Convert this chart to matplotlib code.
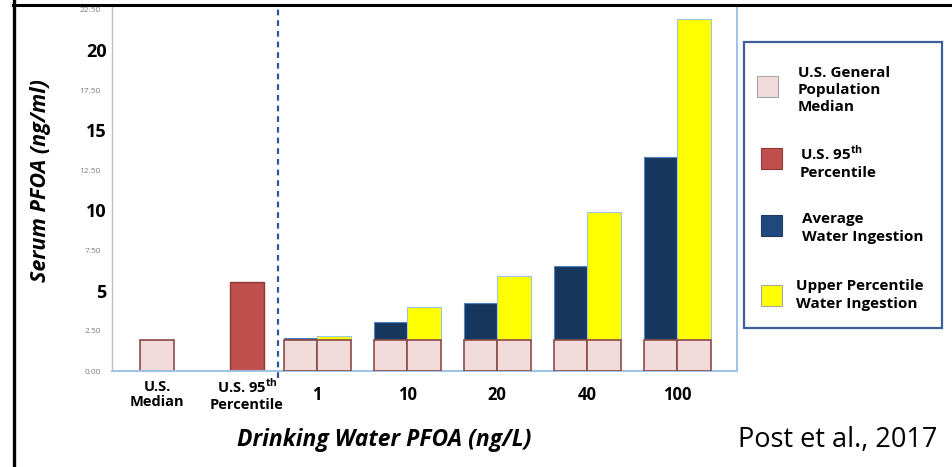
import numpy as np
import matplotlib
matplotlib.use("Agg")
import matplotlib.pyplot as plt
from matplotlib.patches import Rectangle
from matplotlib.lines import Line2D

plt.rcParams["font.family"] = ["Open Sans", "DejaVu Sans"]
plt.rcParams["mathtext.fontset"] = "custom"
plt.rcParams["mathtext.rm"] = "Open Sans"
plt.rcParams["mathtext.bf"] = "Open Sans:bold"

# values (serum PFOA, ng/ml)
us_median = 1.94
us_p95 = 5.57
water_levels = ["1", "10", "20", "40", "100"]
avg_increase = [0.11, 1.12, 2.30, 4.58, 11.40]
upper_increase = [0.22, 2.02, 4.00, 7.98, 20.00]

ref_labels = ["U.S.\nMedian", "U.S. 95$^{\\mathbf{th}}$\nPercentile"]
legend_labels = ["U.S. General\nPopulation\nMedian",
                 "U.S. 95$^{\\mathbf{th}}$\nPercentile",
                 "Average\nWater Ingestion",
                 "Upper Percentile\nWater Ingestion"]

PINK, PINK_EDGE = "#f2dcdb", "#8c4a48"
RED, RED_EDGE = "#c0504d", "#8c3836"
NAVY = "#17375e"
YELLOW = "#ffff00"
LIGHT_BLUE = "#9dc3e6"

W, H = 953, 467
fig = plt.figure(figsize=(W / 100, H / 100), dpi=100)
ax = fig.add_axes([112 / W, 1 - 371 / H, (737 - 112) / W, (371 - 5) / H])

w = 0.37
centers = np.arange(len(water_levels)) + 1.78
base = [us_median] * len(water_levels)

ax.bar(0, us_median, w, color=PINK, edgecolor=PINK_EDGE, linewidth=1.2)
ax.bar(1, us_p95, w, color=RED, edgecolor=RED_EDGE, linewidth=1.0)
ax.bar(centers - w / 2, base, w, color=PINK, edgecolor=PINK_EDGE, linewidth=1.2, zorder=3)
ax.bar(centers - w / 2, avg_increase, w, bottom=base, color=NAVY,
       edgecolor="#4f81bd", linewidth=0.8)
ax.bar(centers + w / 2, base, w, color=PINK, edgecolor=PINK_EDGE, linewidth=1.2, zorder=3)
ax.bar(centers + w / 2, upper_increase, w, bottom=base, color=YELLOW,
       edgecolor=LIGHT_BLUE, linewidth=0.8)

# dashed separator between reference bars and water scenarios
ax.plot([1.344, 1.344], [-0.45, 22.6], ls=(0, (2.6, 2.2)), color="#2f5597",
        lw=1.6, clip_on=False, zorder=4)

ax.set_xlim(-0.5, 6.444)
ax.set_ylim(0, 22.8)

ax.spines["top"].set_visible(False)
ax.spines["left"].set_color("#bfbfbf")
ax.spines["left"].set_linewidth(1.0)
ax.spines["bottom"].set_color(LIGHT_BLUE)
ax.spines["bottom"].set_linewidth(1.4)
ax.spines["right"].set_color(LIGHT_BLUE)
ax.spines["right"].set_linewidth(1.4)

# y ticks: big bold majors plus small grey minors
ax.set_yticks([5, 10, 15, 20])
ax.set_yticklabels(["5", "10", "15", "20"], fontsize=13, fontweight="bold")
ax.set_yticks([0, 2.5, 7.5, 12.5, 17.5, 22.5], minor=True)
ax.set_yticklabels(["0.00", "2.50", "7.50", "12.50", "17.50", "22.50"], minor=True,
                   fontsize=6, color="#7f7f7f")
ax.tick_params(axis="y", which="major", length=0, pad=4)
ax.tick_params(axis="y", which="minor", length=0, pad=8)

xt = [0, 1] + list(centers)
ax.set_xticks(xt)
labels = ax.set_xticklabels(ref_labels + water_levels, fontweight="bold")
for i, lab in enumerate(labels):
    lab.set_va("center")
    lab.set_fontsize(10.5 if i < 2 else 12)
    lab.set_linespacing(1.15)
ax.tick_params(axis="x", length=0, pad=17)

fig.text(384 / W, 1 - 440 / H, "Drinking Water PFOA (ng/L)", fontsize=16.5,
         fontweight="bold", fontstyle="italic", ha="center", va="center")
fig.text(41 / W, 1 - 181 / H, "Serum PFOA (ng/ml)", fontsize=15.5,
         fontweight="bold", fontstyle="italic", ha="center", va="center",
         rotation=90)
fig.text(838 / W, 1 - 440 / H, "Post et al., 2017", fontsize=19.5,
         ha="center", va="center")

# manual legend and page frame in pixel coordinates
ov = fig.add_axes([0, 0, 1, 1], facecolor="none")
ov.set_xlim(0, W)
ov.set_ylim(H, 0)
ov.axis("off")
ov.add_patch(Rectangle((744, 42), 198, 286, fill=False, edgecolor="#3a5f9a", lw=1.6))
leg_colors = [(PINK, "#a6a6a6"), (RED, RED_EDGE), ("#1f497d", "#1f3a60"), (YELLOW, "#a6a6a6")]
patch_xy = [(757, 76), (761, 148), (761, 215), (761, 285)]
text_xy = [(798, 90), (800, 162), (802, 228), (796, 295)]
for (fc, ec), (px, py), (tx, ty), lab in zip(leg_colors, patch_xy, text_xy, legend_labels):
    ov.add_patch(Rectangle((px, py), 21, 21, facecolor=fc, edgecolor=ec, lw=0.8))
    ov.text(tx, ty, lab, fontsize=11, fontweight="bold", ha="left", va="center",
            linespacing=1.3)
ov.add_line(Line2D([14.5, 14.5], [0, H], color="black", lw=2.4))
ov.add_line(Line2D([13, W], [5, 5], color="black", lw=2.2))

fig.savefig("out.png", dpi=100)
